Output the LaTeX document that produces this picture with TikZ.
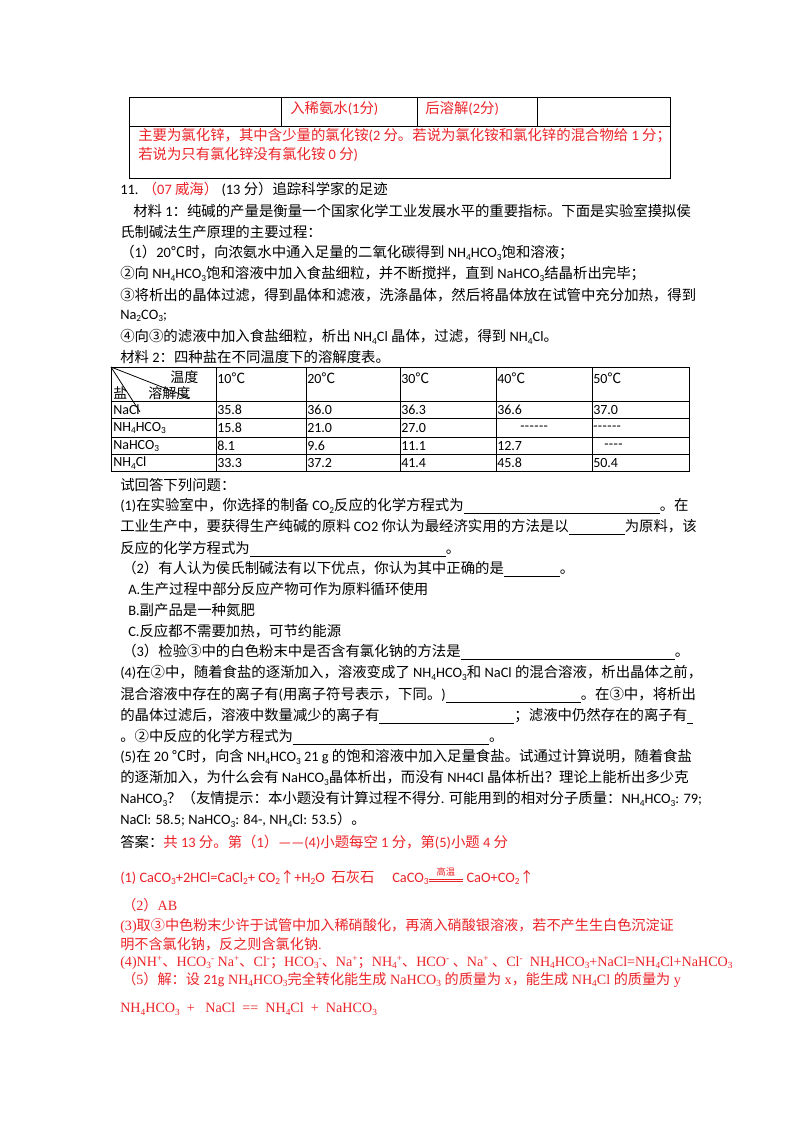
\documentclass[tikz,border=0pt]{standalone}
\usepackage{fontspec}
\setmainfont{Carlito}
\newfontfamily\carl{Carlito}
\newfontfamily\serf{Liberation Serif}
\newfontfamily\cjk{Noto Sans CJK SC}
\def\latinfont{\carl}
\XeTeXinterchartokenstate=1
\newXeTeXintercharclass\cjkclass
\makeatletter
\count@="4E00
\loop\ifnum\count@<"A000 \XeTeXcharclass\count@=\cjkclass \advance\count@ 1 \repeat
\count@="3000
\loop\ifnum\count@<"3040 \XeTeXcharclass\count@=\cjkclass \advance\count@ 1 \repeat
\count@="FF00
\loop\ifnum\count@<"FFF0 \XeTeXcharclass\count@=\cjkclass \advance\count@ 1 \repeat
\count@="2460
\loop\ifnum\count@<"2474 \XeTeXcharclass\count@=\cjkclass \advance\count@ 1 \repeat
\XeTeXcharclass"2103=\cjkclass
\XeTeXcharclass"2191=\cjkclass
\makeatother
\XeTeXinterchartoks 0 \cjkclass = {\cjk}
\XeTeXinterchartoks 4095 \cjkclass = {\cjk}
\XeTeXinterchartoks \cjkclass 0 = {\latinfont}
\XeTeXinterchartoks \cjkclass 4095 = {\latinfont}
\newcommand\dn[1]{\raisebox{-0.35ex}{\fontsize{7}{7}\selectfont #1}}
\newcommand\up[1]{\raisebox{0.75ex}{\fontsize{7}{7}\selectfont #1}}
\newcommand\blank[1]{\rule[-2pt]{#1\dimexpr0.75pt\relax}{0.5pt}}
\newcommand\useserif{\def\latinfont{\serf}\serf}
\newcommand\hy[1]{\foreach \k in {1,...,#1}{-\kern0.3pt}}
\definecolor{ansred}{RGB}{235,35,40}
\begin{document}
\begin{tikzpicture}[x=0.75pt,y=-0.75pt,
  ln/.style={anchor=west,inner sep=0pt,font=\fontsize{10.8}{13}\selectfont},
  rd/.style={ln,text=ansred},
  ra/.style={rd,font=\fontsize{10.6}{13}\selectfont\useserif},
  cell/.style={anchor=west,inner sep=0pt,font=\fontsize{10.5}{12}\selectfont},
  grid/.style={line width=0.6pt}]
\useasboundingbox (0,0) rectangle (800,1132);
% top table
\draw[grid] (129,97) rectangle (670,178);
\draw[grid] (129,126) -- (670,126);
\foreach \x in {281,417,537} \draw[grid] (\x,97) -- (\x,126);
\node[rd] (t1) at (290,108) {入稀氨水(1分)};
\node[rd] (t2) at (425,108) {后溶解(2分)};
\node[rd] (t3) at (138,136) {主要为氯化锌，其中含少量的氯化铵(2 分。若说为氯化铵和氯化锌的混合物给 1 分；};
\node[rd] (t4) at (138,154) {若说为只有氯化锌没有氯化铵 0 分)};
% material
\node[ln] (l1) at (120,189) {11. \textcolor{ansred}{（07 威海）} (13 分）追踪科学家的足迹};
\node[ln] (l2) at (133,211) {材料 1：纯碱的产量是衡量一个国家化学工业发展水平的重要指标。下面是实验室摸拟侯};
\node[ln] (l3) at (120,232) {氏制碱法生产原理的主要过程：};
\node[ln] (l4) at (120,253) {（1）20℃时，向浓氨水中通入足量的二氧化碳得到 NH\dn4HCO\dn3饱和溶液；};
\node[ln] (l5) at (120,274) {②向 NH\dn4HCO\dn3饱和溶液中加入食盐细粒，并不断搅拌，直到 NaHCO\dn3结晶析出完毕；};
\node[ln] (l6) at (120,295) {③将析出的晶体过滤，得到晶体和滤液，洗涤晶体，然后将晶体放在试管中充分加热，得到};
\node[ln] (l7) at (120,316) {Na\dn2CO\dn3;};
\node[ln] (l8) at (120,337) {④向③的滤液中加入食盐细粒，析出 NH\dn4Cl 晶体，过滤，得到 NH\dn4Cl。};
\node[ln] (l9) at (120,357) {材料 2：四种盐在不同温度下的溶解度表。};
% solubility table
\draw[grid] (111,367) rectangle (689,471);
\foreach \y in {401,418,437,454} \draw[grid] (111,\y) -- (689,\y);
\foreach \x in {216,306,400,496,592} \draw[grid] (\x,367) -- (\x,471);
\coordinate (c0) at (111,367);
\coordinate (d1) at (190,398);
\coordinate (d2) at (140,412);
\draw[grid] (c0) -- (d1);
\draw[grid] (c0) -- (d2);
\node[cell] (h1) at (170,377) {温度};
\node[cell] (h2) at (113,393) {盐};
\node[cell] (h3) at (148,393) {溶解度};
\foreach \x/\t [count=\i] in {217/10℃,307/20℃,401/30℃,497/40℃,593/50℃}
  \node[cell] (hd\i) at (\x,378) {\t};
\node[cell] (r1) at (113,410) {NaCl};
\node[cell] (r2) at (113,428) {NH\dn4HCO\dn3};
\node[cell] (r3) at (113,446) {NaHCO\dn3};
\node[cell] (r4) at (113,463) {NH\dn4Cl};
\foreach \x/\a/\b/\c/\d [count=\i] in {217/35.8/15.8/8.1/33.3,307/36.0/21.0/9.6/37.2,401/36.3/27.0/11.1/41.4}{
  \node[cell] (ca\i) at (\x,410) {\a};
  \node[cell] (cb\i) at (\x,428) {\b};
  \node[cell] (cc\i) at (\x,446) {\c};
  \node[cell] (cd\i) at (\x,463) {\d};}
\node[cell] (e1) at (497,410) {36.6};
\node[cell] (e2) at (520,428) {\hy{6}};
\node[cell] (e3) at (497,446) {12.7};
\node[cell] (e4) at (497,463) {45.8};
\node[cell] (f1) at (593,410) {37.0};
\node[cell] (f2) at (593,428) {\hy{6}};
\node[cell] (f3) at (604,446) {\hy{4}};
\node[cell] (f4) at (593,463) {50.4};
% questions
\node[ln] (q1) at (120,485) {试回答下列问题：};
\node[ln] (q2) at (120,506) {(1)在实验室中，你选择的制备 CO\dn2反应的化学方程式为\blank{196}。在};
\node[ln] (q3) at (120,527) {工业生产中，要获得生产纯碱的原料 CO2 你认为最经济实用的方法是以\blank{56}为原料，该};
\node[ln] (q4) at (120,549) {反应的化学方程式为\blank{196}。};
\node[ln] (q5) at (122,569) {（2）有人认为侯氏制碱法有以下优点，你认为其中正确的是\blank{56}。};
\node[ln] (q6) at (128,589) {A.生产过程中部分反应产物可作为原料循环使用};
\node[ln] (q7) at (128,610) {B.副产品是一种氮肥};
\node[ln] (q8) at (128,631) {C.反应都不需要加热，可节约能源};
\node[ln] (q9) at (122,652) {（3）检验③中的白色粉末中是否含有氯化钠的方法是\blank{214}。};
\node[ln] (q10) at (120,673) {(4)在②中，随着食盐的逐渐加入，溶液变成了 NH\dn4HCO\dn3和 NaCl 的混合溶液，析出晶体之前，};
\node[ln] (q11) at (120,695) {混合溶液中存在的离子有(用离子符号表示，下同。)\blank{135}。在③中，将析出};
\node[ln] (q12) at (120,716) {的晶体过滤后，溶液中数量减少的离子有\blank{135}；滤液中仍然存在的离子有\blank{6}};
\node[ln] (q13) at (120,737) {。②中反应的化学方程式为\blank{196}。};
\node[ln] (q14) at (120,757) {(5)在 20 ℃时，向含 NH\dn4HCO\dn3 21 g 的饱和溶液中加入足量食盐。试通过计算说明，随着食盐};
\node[ln] (q15) at (120,778) {的逐渐加入，为什么会有 NaHCO\dn3晶体析出，而没有 NH4Cl 晶体析出？理论上能析出多少克};
\node[ln] (q16) at (120,799) {NaHCO\dn3？（友情提示：本小题没有计算过程不得分. 可能用到的相对分子质量：NH\dn4HCO\dn3: 79;};
\node[ln] (q17) at (120,820) {NaCl: 58.5; NaHCO\dn3: 84-, NH\dn4Cl: 53.5）。};
% answers
\node[ln] (a0) at (120,842) {答案：\textcolor{ansred}{共 13 分。第（1）——(4)小题每空 1 分，第(5)小题 4 分}};
\node[rd] (a1) at (120,876) {(1) CaCO\dn3+2HCl=CaCl\dn2+ CO\dn2↑+H\dn2O \ 石灰石 \quad CaCO\dn3\makebox[26pt]{\raisebox{5.5pt}{\fontsize{7}{7}\selectfont 高温}}\hspace{-26pt}\rule[2pt]{26pt}{0.4pt}\hspace{-26pt}\rule[0.5pt]{26pt}{0.4pt} CaO+CO\dn2↑};
\node[ra] (a2) at (122,905) {（2）AB};
\node[ra] (a3) at (120,926) {(3)取③中色粉末少许于试管中加入稀硝酸化，再滴入硝酸银溶液，若不产生生白色沉淀证};
\node[ra] (a4) at (120,944) {明不含氯化钠，反之则含氯化钠.};
\node[ra] (a5) at (120,963) {(4)NH\up+、HCO\dn3\up- Na\up+、Cl\up-；HCO\dn3\up-、Na\up+；NH\dn4\up+、HCO\up- 、Na\up+ 、Cl\up- \ NH\dn4HCO\dn3+NaCl=NH\dn4Cl+NaHCO\dn3};
\node[ra] (a6) at (122,980) {（5）解：设 {\carl 21g} NH\dn4HCO\dn3完全转化能生成 NaHCO\dn3 的质量为 x，能生成 NH\dn4Cl 的质量为 y};
\node[ra] (a7) at (120,1009) {NH\dn4HCO\dn3 \ + \ \ NaCl \ == \ NH\dn4Cl \ + \ NaHCO\dn3};
\end{tikzpicture}
\end{document}
